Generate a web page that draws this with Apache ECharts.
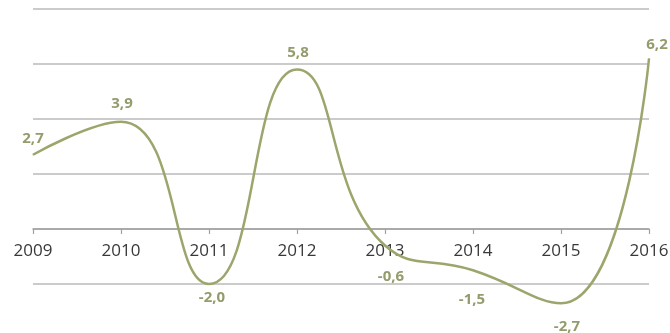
<!DOCTYPE html>
<html>
<head>
<meta charset="utf-8">
<style>
  html, body { margin: 0; padding: 0; background: #ffffff; }
  #chart { width: 670px; height: 333px; }
</style>
<script src="https://cdn.jsdelivr.net/npm/echarts@6/dist/echarts.min.js"></script>
</head>
<body>
<div id="chart"></div>
<script>
// Yearly change, per cent
const years = ['2009', '2010', '2011', '2012', '2013', '2014', '2015', '2016'];
const changes = [2.7, 3.9, -2.0, 5.8, -0.6, -1.5, -2.7, 6.2];

// Where each value label sits relative to its point, in pixels
const labelShift = [[0, -16], [1, -18], [3, 14], [1, -17], [6, 31], [-1, 29], [6, 23], [8, -14]];

const fmt = v => v.toFixed(1).replace('.', ',');

const chart = echarts.init(document.getElementById('chart'), null, { renderer: 'canvas' });

// Value axis runs from -4 to 8; the plot area reaches below the canvas edge,
// so the lowest grid line (-4) falls outside the visible area.
chart.setOption({
  animation: false,
  grid: { left: 33, right: 21, top: 9, bottom: -6, containLabel: false, outerBoundsMode: 'none' },
  xAxis: {
    type: 'category',
    data: years,
    boundaryGap: false,
    position: 'bottom',
    offset: -110,
    axisLine: { onZero: false, lineStyle: { color: '#a0a0a0', width: 1.5 } },
    axisTick: { show: true, length: 5, alignWithLabel: true, lineStyle: { color: '#a0a0a0', width: 1.2 } },
    axisLabel: {
      margin: 14,
      color: '#383838',
      fontFamily: 'Open Sans',
      fontSize: 17,
      interval: 0
    },
    splitLine: { show: false }
  },
  yAxis: {
    type: 'value',
    min: -4,
    max: 8,
    interval: 2,
    axisLine: { show: false },
    axisTick: { show: false },
    axisLabel: { show: false },
    splitLine: { show: true, lineStyle: { color: '#cbcbcb', width: 2 } }
  },
  series: [{
    type: 'line',
    data: changes.map((v, i) => ({
      value: v,
      label: { offset: labelShift[i] }
    })),
    smooth: 0.5,
    symbol: 'circle',
    symbolSize: 1,
    showSymbol: true,
    itemStyle: { color: '#9ca66c' },
    lineStyle: { color: '#9ca66c', width: 2.5 },
    label: {
      show: true,
      position: 'inside',
      formatter: p => fmt(p.value),
      color: '#939c6c',
      fontFamily: 'Open Sans',
      fontWeight: 'bold',
      fontSize: 15
    },
    clip: false
  }]
});
</script>
</body>
</html>
